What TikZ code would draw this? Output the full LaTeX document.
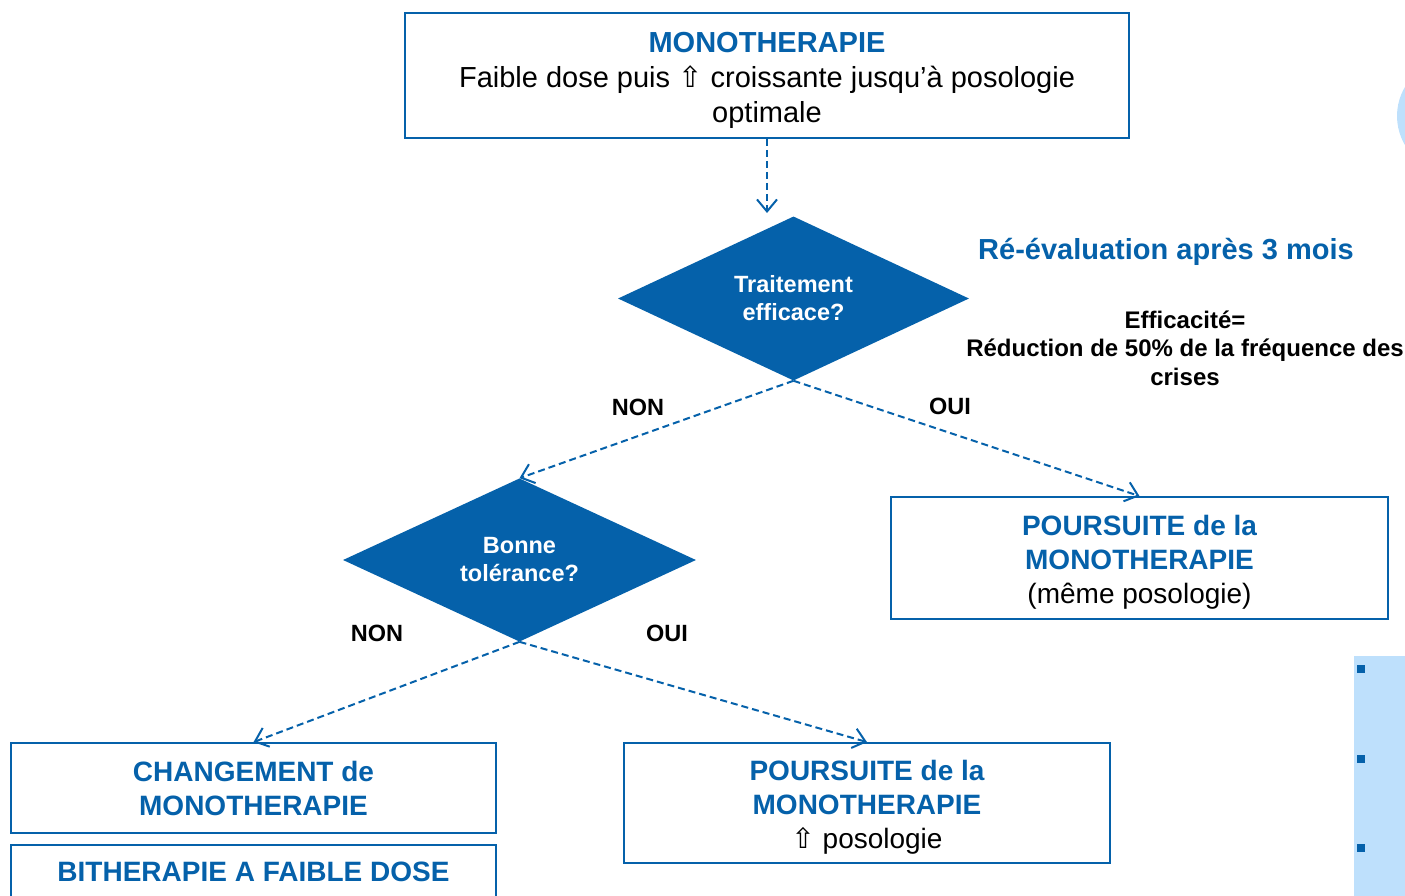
\documentclass[tikz,border=0pt]{standalone}
\usepackage{fontspec}
\setmainfont{Liberation Sans}
\newfontfamily\symfont{DejaVu Sans}
\usetikzlibrary{shapes.geometric,arrows.meta}
\definecolor{mblue}{RGB}{5,97,170}
\definecolor{lblue}{RGB}{190,224,252}
\newcommand\uparr{{\symfont ⇧}}
\newcommand\topstrut[1]{\rule{0pt}{#1}}
\begin{document}
\begin{tikzpicture}[x=1pt,y=-1pt,
  box/.style={draw=mblue, line width=1.8pt, inner sep=0pt, align=center,
    font=\fontsize{28}{34}\selectfont},
  dia/.style={diamond, fill=mblue, inner sep=0pt, align=center, text=white,
    font=\bfseries\fontsize{23.5}{28}\selectfont},
  lbl/.style={font=\bfseries\fontsize{23.5}{28.5}\selectfont, align=center, inner sep=0pt},
  conn/.style={draw=mblue, line width=2pt, dash pattern=on 7pt off 4pt,
    -{Straight Barb[length=12pt,width=20pt,line width=2pt]}}
]
\useasboundingbox (0,0) rectangle (1405,895);
\clip (0,0) rectangle (1405,895);
% right-edge decorations
\fill[lblue] (1454,116) circle (57pt);
\fill[lblue] (1354,656) rectangle (1420,900);
\fill[mblue] (1357,665) rectangle +(8,8);
\fill[mblue] (1357,755) rectangle +(8,8);
\fill[mblue] (1357,844) rectangle +(8,8);
% boxes
\node[box, minimum width=724pt, minimum height=125pt, font=\fontsize{29}{35}\selectfont] (mono) at (767,75.5)
  {\topstrut{30pt}{\color{mblue}\bfseries MONOTHERAPIE}\\Faible dose puis \uparr{} croissante jusqu’à posologie\\optimale};
\node[box, minimum width=497pt, minimum height=122pt] (p1) at (1139.5,558)
  {\topstrut{28.5pt}{\color{mblue}\bfseries POURSUITE de la}\\{\color{mblue}\bfseries MONOTHERAPIE}\\(même posologie)};
\node[box, minimum width=485pt, minimum height=90pt] (chg) at (253.5,788)
  {{\color{mblue}\bfseries CHANGEMENT de}\\{\color{mblue}\bfseries MONOTHERAPIE}};
\node[box, minimum width=486pt, minimum height=120pt] (p2) at (867,803)
  {\topstrut{28.5pt}{\color{mblue}\bfseries POURSUITE de la}\\{\color{mblue}\bfseries MONOTHERAPIE}\\\uparr{} posologie};
\draw[draw=mblue, line width=1.8pt] (11,845) rectangle (496,915);
\node[box, draw=none, text=mblue, font=\bfseries\fontsize{28}{34}\selectfont] (bith) at (253.5,872)
  {BITHERAPIE A FAIBLE DOSE};
% diamonds
\node[dia, minimum width=351pt, minimum height=157pt] (d1) at (793.5,298.5)
  {Traitement\\efficace?};
\node[dia, minimum width=353pt, minimum height=156pt] (d2) at (519.5,560)
  {Bonne\\tolérance?};
% texts
\node[lbl, text=mblue, font=\bfseries\fontsize{29}{35}\selectfont] (reeval) at (1166,251.5)
  {Ré-évaluation après 3 mois};
\node[lbl, font=\bfseries\fontsize{24}{28.5}\selectfont] (eff) at (1185,348)
  {Efficacité=\\Réduction de 50\% de la fréquence des\\crises};
\node[lbl] (non1) at (638,407) {NON};
\node[lbl] (oui1) at (950,406) {OUI};
\node[lbl] (non2) at (377,633) {NON};
\node[lbl] (oui2) at (667,633) {OUI};
% connectors
\coordinate (a1end) at (767,213);
\draw[conn] (mono.south) -- (a1end);
\draw[conn] (d1.south) -- (d2.north);
\draw[conn] (d1.south) -- (p1.north);
\draw[conn] (d2.south) -- (chg.north);
\draw[conn] (d2.south) -- (p2.north);
\end{tikzpicture}
\end{document}
